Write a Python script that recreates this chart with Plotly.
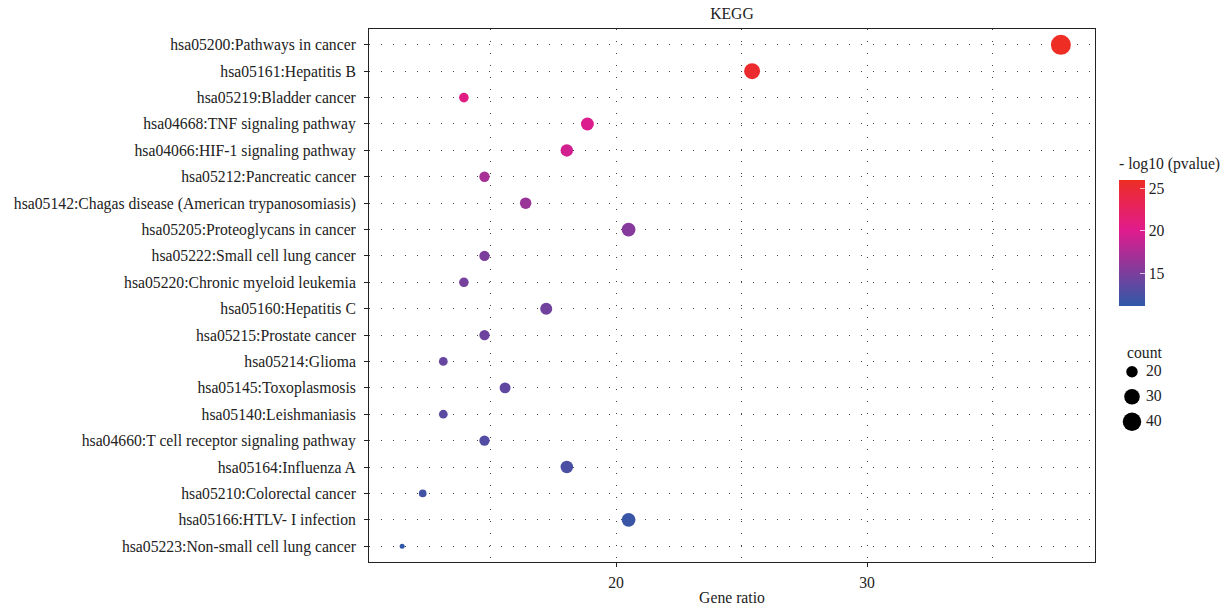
import plotly.graph_objects as go
import numpy as np

terms = [
    "hsa05200:Pathways in cancer",
    "hsa05161:Hepatitis B",
    "hsa05219:Bladder cancer",
    "hsa04668:TNF signaling pathway",
    "hsa04066:HIF-1 signaling pathway",
    "hsa05212:Pancreatic cancer",
    "hsa05142:Chagas disease (American trypanosomiasis)",
    "hsa05205:Proteoglycans in cancer",
    "hsa05222:Small cell lung cancer",
    "hsa05220:Chronic myeloid leukemia",
    "hsa05160:Hepatitis C",
    "hsa05215:Prostate cancer",
    "hsa05214:Glioma",
    "hsa05145:Toxoplasmosis",
    "hsa05140:Leishmaniasis",
    "hsa04660:T cell receptor signaling pathway",
    "hsa05164:Influenza A",
    "hsa05210:Colorectal cancer",
    "hsa05166:HTLV- I infection",
    "hsa05223:Non-small cell lung cancer",
]
gene_ratio = [37.72, 25.42, 13.94, 18.86, 18.04, 14.76, 16.40, 20.50, 14.76, 13.94,
              17.22, 14.76, 13.12, 15.58, 13.12, 14.76, 18.04, 12.30, 20.50, 11.48]
counts = [46, 31, 17, 23, 22, 18, 20, 25, 18, 17, 21, 18, 16, 19, 16, 18, 22, 15, 25, 14]
neglog10p = [25.9, 25.3, 20.5, 19.8, 19.4, 17.2, 16.5, 15.6, 15.1, 14.8,
             14.5, 14.3, 14.0, 13.7, 13.4, 13.0, 12.6, 12.2, 11.8, 11.24]
legend_counts = [20, 30, 40]
x_ticks = [20, 30]

FONT = "Liberation Serif"
FS = 15.7
TXT = "#222"
cmin, cmax = 11.24, 25.94
cnt_min, cnt_max = min(counts), max(counts)


def diam(n):
    n = np.asarray(n, dtype=float)
    return 5 + 15 * np.sqrt(np.clip((n - cnt_min) / (cnt_max - cnt_min), 0, 1))


colorscale = [[0.0, "#2F59A8"], [0.6, "#E01B8D"], [1.0, "#EE2D24"]]

W, H = 1229, 609
L, R, T, B = 369, 10, 29, 47
pw = W - L - R
ph = H - T - B
plot_right = 1095


def px_x(x):
    return (x - L) / pw


def px_y(y):
    return (H - B - y) / ph


fig = go.Figure()
fig.add_trace(go.Scatter(
    x=gene_ratio, y=terms, mode="markers",
    marker=dict(size=diam(counts), sizemode="diameter", color=neglog10p,
                colorscale=colorscale, cmin=cmin, cmax=cmax, line=dict(width=0), opacity=1,
                colorbar=dict(
                    thickness=26, len=126, lenmode="pixels",
                    x=px_x(1119), xanchor="left", y=px_y(243), yanchor="middle",
                    xpad=0, ypad=0, outlinewidth=0,
                    tickvals=[15, 20, 25], ticks="inside", ticklen=5,
                    tickcolor="rgba(255,255,255,0.7)",
                    tickfont=dict(family=FONT, size=FS, color=TXT),
                )),
    showlegend=False, hoverinfo="x+y",
))

# size legend: keys
leg_y = list(range(len(legend_counts)))
fig.add_trace(go.Scatter(
    x=[0.174] * len(legend_counts), y=leg_y, mode="markers",
    marker=dict(size=diam(legend_counts), sizemode="diameter", color="#000000",
                opacity=1, line=dict(width=0)),
    xaxis="x2", yaxis="y2", showlegend=False, hoverinfo="skip", cliponaxis=False,
))
# size legend: labels
fig.add_trace(go.Scatter(
    x=[0.96] * len(legend_counts), y=leg_y, mode="text",
    text=[str(v) for v in legend_counts], textposition="middle right",
    textfont=dict(family=FONT, size=FS, color=TXT),
    xaxis="x2", yaxis="y2", showlegend=False, hoverinfo="skip", cliponaxis=False,
))

grid_dash = "1px,11px"
fig.update_layout(
    width=W, height=H,
    margin=dict(l=L, r=R, t=T, b=B, autoexpand=False),
    paper_bgcolor="white", plot_bgcolor="white",
    font=dict(family=FONT, size=FS, color=TXT),
    title=dict(text="KEGG", x=px_x((369 + 1095) / 2), xref="paper", xanchor="center",
               y=1 - 14 / H, yanchor="middle", font=dict(family=FONT, size=FS, color=TXT)),
    xaxis=dict(
        domain=[0, (plot_right - L) / pw], automargin=False,
        range=[10.16, 39.08], tickvals=x_ticks, ticks="outside", ticklen=4, tickcolor=TXT,
        ticklabelstandoff=2,
        showline=True, linecolor=TXT, linewidth=1, mirror=True,
        showgrid=True, gridcolor="#444", gridwidth=1, griddash=grid_dash,
        minor=dict(dtick=5, tick0=0, showgrid=True, gridcolor="#444", gridwidth=1, griddash=grid_dash),
        zeroline=False,
        title=dict(text="Gene ratio", standoff=2, font=dict(family=FONT, size=FS)),
        tickfont=dict(family=FONT, size=FS),
    ),
    yaxis=dict(
        type="category", categoryorder="array", categoryarray=terms, automargin=False,
        range=[len(terms) - 1 + 0.6, -0.6],
        ticks="outside", ticklen=4, tickcolor=TXT, ticklabelstandoff=5,
        showline=True, linecolor=TXT, linewidth=1, mirror=True,
        showgrid=True, gridcolor="#444", gridwidth=1, griddash=grid_dash,
        zeroline=False, tickfont=dict(family=FONT, size=FS),
    ),
    xaxis2=dict(domain=[px_x(1120), px_x(1200)], range=[-0.5, 4], visible=False,
                fixedrange=True, automargin=False),
    yaxis2=dict(domain=[px_y(434.2), px_y(359.2)], range=[2.5, -0.5], visible=False,
                fixedrange=True, automargin=False),
    annotations=[
        dict(text="- log10 (pvalue)", x=px_x(1117), y=px_y(164), xref="paper", yref="paper",
             xanchor="left", yanchor="middle", showarrow=False,
             font=dict(family=FONT, size=FS, color=TXT)),
        dict(text="count", x=px_x(1125), y=px_y(352.5), xref="paper", yref="paper",
             xanchor="left", yanchor="middle", showarrow=False,
             font=dict(family=FONT, size=FS, color=TXT)),
    ],
)

fig.write_html("out.html", config={"displayModeBar": False},
               post_script="document.body.style.margin='0';")
